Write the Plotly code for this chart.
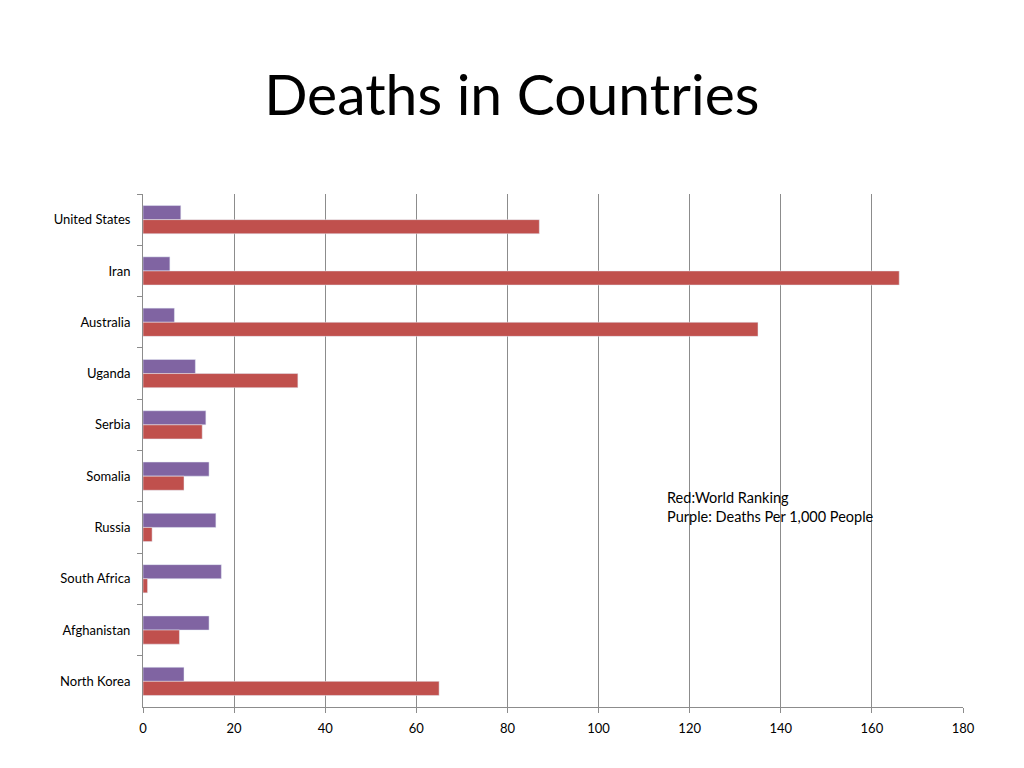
import plotly.graph_objects as go

countries = ["United States", "Iran", "Australia", "Uganda", "Serbia",
             "Somalia", "Russia", "South Africa", "Afghanistan", "North Korea"]
deaths_per_1000 = [8.3, 5.9, 6.9, 11.5, 13.8, 14.5, 16.0, 17.2, 14.5, 9.0]
world_ranking = [87, 166, 135, 34, 13, 9, 2, 1, 8, 65]

PURPLE = "#8064A2"
RED = "#C0504D"
GRID = "#8C8C8C"

fig = go.Figure()
fig.add_trace(go.Bar(y=countries, x=deaths_per_1000, orientation="h",
                     name="Deaths Per 1,000 People", marker_color=PURPLE))
fig.add_trace(go.Bar(y=countries, x=world_ranking, orientation="h",
                     name="World Ranking", marker_color=RED))

fig.update_layout(
    width=1024, height=768,
    margin=dict(l=135, r=69, t=186, b=69),
    paper_bgcolor="white", plot_bgcolor="white",
    font=dict(family="Lato, Open Sans, sans-serif", size=13, color="black"),
    barmode="group", bargap=0.45, bargroupgap=0,
    showlegend=False,
    title=dict(text="Deaths in Countries", x=0.492, xanchor="center",
               y=0.8867, yanchor="middle",
               font=dict(size=57, color="black")),
    annotations=[
        dict(text="Red:World Ranking<br>Purple: Deaths Per 1,000 People",
             xref="paper", yref="paper", x=0.636, y=0.428,
             xanchor="left", yanchor="top", align="left",
             showarrow=False, font=dict(size=14.5)),
    ],
)

fig.update_xaxes(range=[0, 180], dtick=20, showgrid=True, gridcolor=GRID,
                 gridwidth=1, showline=True, linecolor=GRID, ticks="outside",
                 ticklen=5, tickcolor=GRID, zeroline=False, fixedrange=True,
                 ticklabelstandoff=4)
fig.update_yaxes(autorange="reversed", categoryorder="array",
                 categoryarray=countries, showline=True, linecolor=GRID,
                 ticks="outside", tickson="boundaries", ticklen=5,
                 tickcolor=GRID, showgrid=False, ticklabelstandoff=9)

fig.write_html("out.html")
